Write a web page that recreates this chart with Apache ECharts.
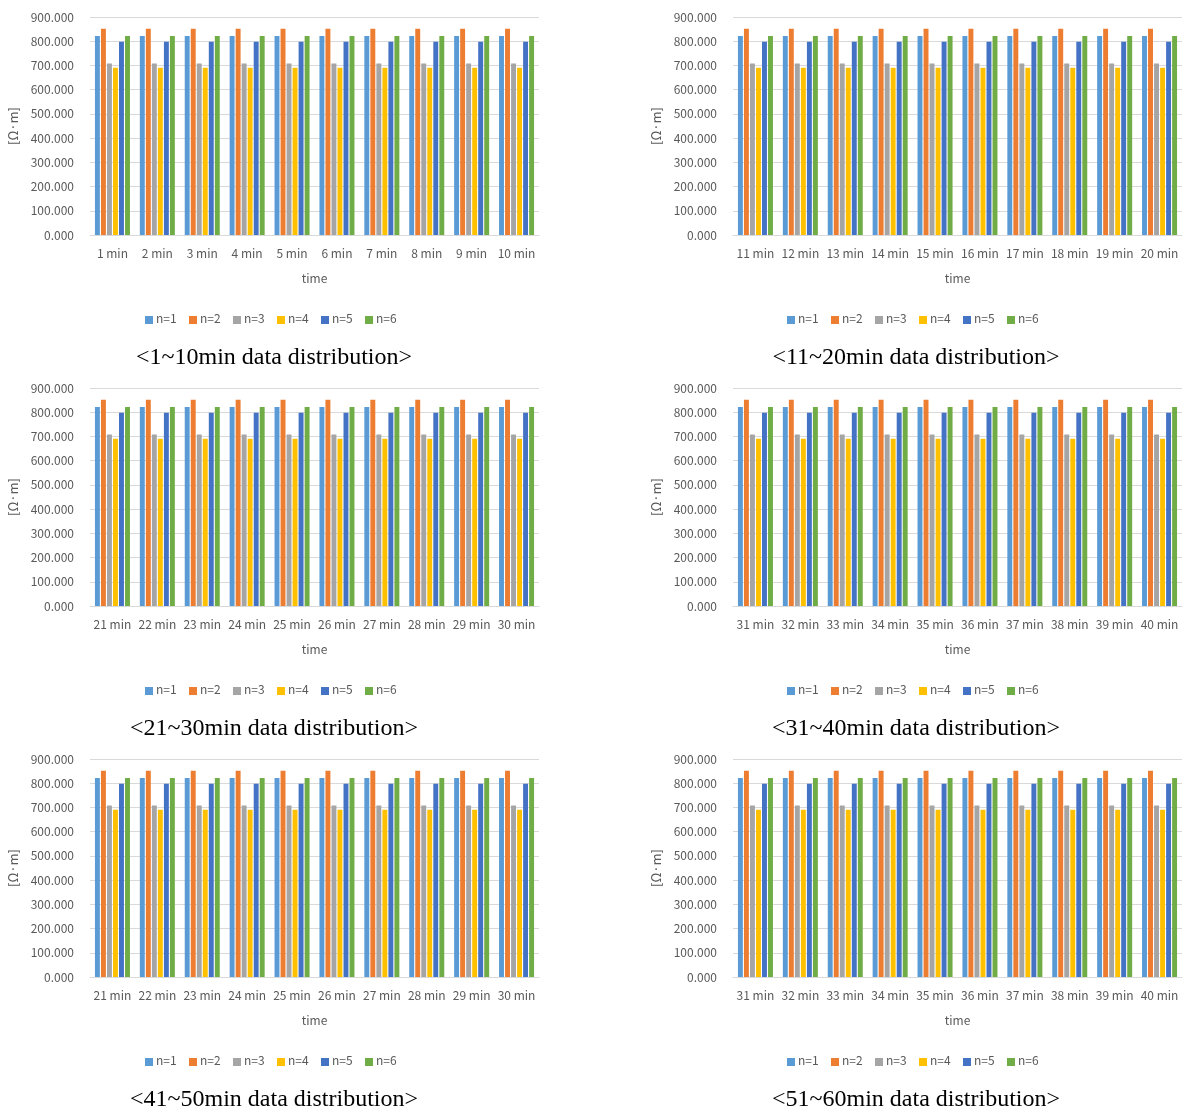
<!DOCTYPE html>
<html>
<head>
<meta charset="utf-8">
<script src="https://cdn.jsdelivr.net/npm/echarts@6/dist/echarts.min.js"></script>
<style>
  html, body { margin: 0; padding: 0; background: #fff; }
  #chart { width: 1186px; height: 1114px; }
</style>
</head>
<body>
<div id="chart"></div>
<script>
// Minute labels for each of the six panels
const minutes1to10  = ['1 min', '2 min', '3 min', '4 min', '5 min', '6 min', '7 min', '8 min', '9 min', '10 min'];
const minutes11to20 = ['11 min', '12 min', '13 min', '14 min', '15 min', '16 min', '17 min', '18 min', '19 min', '20 min'];
const minutes21to30 = ['21 min', '22 min', '23 min', '24 min', '25 min', '26 min', '27 min', '28 min', '29 min', '30 min'];
const minutes31to40 = ['31 min', '32 min', '33 min', '34 min', '35 min', '36 min', '37 min', '38 min', '39 min', '40 min'];
const minutes41to50 = ['21 min', '22 min', '23 min', '24 min', '25 min', '26 min', '27 min', '28 min', '29 min', '30 min'];
const minutes51to60 = ['31 min', '32 min', '33 min', '34 min', '35 min', '36 min', '37 min', '38 min', '39 min', '40 min'];

// Resistivity [Ω·m] per measurement n, one value per minute
const n1 = [822, 822, 822, 822, 822, 822, 822, 822, 822, 822];
const n2 = [852, 852, 852, 852, 852, 852, 852, 852, 852, 852];
const n3 = [708, 708, 708, 708, 708, 708, 708, 708, 708, 708];
const n4 = [690, 690, 690, 690, 690, 690, 690, 690, 690, 690];
const n5 = [798, 798, 798, 798, 798, 798, 798, 798, 798, 798];
const n6 = [822, 822, 822, 822, 822, 822, 822, 822, 822, 822];

const seriesNames = ['n=1', 'n=2', 'n=3', 'n=4', 'n=5', 'n=6'];
const seriesData = [n1, n2, n3, n4, n5, n6];
const colors = ['#5B9BD5', '#ED7D31', '#A5A5A5', '#FFC000', '#4472C4', '#70AD47'];

// Y axis ticks
const yMin = 0, yMax = 900, yStep = 100;

const captions = [
  '<1~10min data distribution>',
  '<11~20min data distribution>',
  '<21~30min data distribution>',
  '<31~40min data distribution>',
  '<41~50min data distribution>',
  '<51~60min data distribution>'
];
const panelCategories = [minutes1to10, minutes11to20, minutes21to30, minutes31to40, minutes41to50, minutes51to60];

const FONT = '"Noto Sans CJK KR", "Noto Sans", sans-serif';
const TEXT = '#595959';
const GRIDLINE = '#D9D9D9';

const colLeft = [90, 733];
const rowTop = [17, 388, 759];
const plotW = 449, plotH = 218;
const rowStep = 371;

const grids = [], xAxes = [], yAxes = [], series = [], titles = [], graphics = [];

panelCategories.forEach((cats, p) => {
  const col = p % 2, row = Math.floor(p / 2);
  const left = colLeft[col], top = rowTop[row];
  grids.push({ left: left, top: top, width: plotW, height: plotH });
  xAxes.push({
    type: 'category', gridIndex: p, data: cats,
    name: 'time', nameLocation: 'middle', nameGap: 37,
    nameTextStyle: { color: TEXT, fontFamily: FONT, fontSize: 12 },
    axisLine: { lineStyle: { color: GRIDLINE, width: 1 } },
    axisTick: { show: false },
    axisLabel: { color: TEXT, fontFamily: FONT, fontSize: 12, margin: 12, interval: 0 }
  });
  yAxes.push({
    type: 'value', gridIndex: p, min: yMin, max: yMax, interval: yStep,
    name: '[Ω·m]', nameLocation: 'middle', nameGap: 70, nameRotate: 90,
    nameTextStyle: { color: TEXT, fontFamily: FONT, fontSize: 13 },
    axisLine: { show: false }, axisTick: { show: false },
    splitLine: { lineStyle: { color: GRIDLINE, width: 1 } },
    axisLabel: {
      color: TEXT, fontFamily: FONT, fontSize: 12, margin: 16,
      formatter: v => v.toFixed(3)
    }
  });
  seriesData.forEach((vals, i) => {
    series.push({
      type: 'bar', name: seriesNames[i], xAxisIndex: p, yAxisIndex: p,
      data: vals, barGap: '22%', barCategoryGap: '22%',
      itemStyle: { color: colors[i] },
      silent: true
    });
  });
  // legend row under each panel
  const legendCenter = col === 0 ? 277 : 919;
  const legendY = 320 + row * rowStep;
  const itemW = 44;
  seriesNames.forEach((nm, i) => {
    const x0 = legendCenter - itemW * 3 + i * itemW;
    graphics.push({
      type: 'rect', left: x0, top: legendY - 4,
      shape: { width: 8, height: 8 }, style: { fill: colors[i] }
    });
    graphics.push({
      type: 'text', left: x0 + 11, top: legendY - 8,
      style: { text: nm, fill: TEXT, font: '12px ' + FONT }
    });
  });
  titles.push({
    text: captions[p],
    left: (col === 0 ? 269 : 911), top: 341 + row * rowStep,
    textAlign: 'center',
    textStyle: { fontFamily: '"Liberation Serif", "Times New Roman", serif', fontSize: 24, fontWeight: 'normal', color: '#000' }
  });
});

const chart = echarts.init(document.getElementById('chart'), null, { renderer: 'canvas' });
chart.setOption({
  backgroundColor: '#fff',
  animation: false,
  color: colors,
  title: titles,
  grid: grids,
  xAxis: xAxes,
  yAxis: yAxes,
  series: series,
  graphic: graphics
});
</script>
</body>
</html>
